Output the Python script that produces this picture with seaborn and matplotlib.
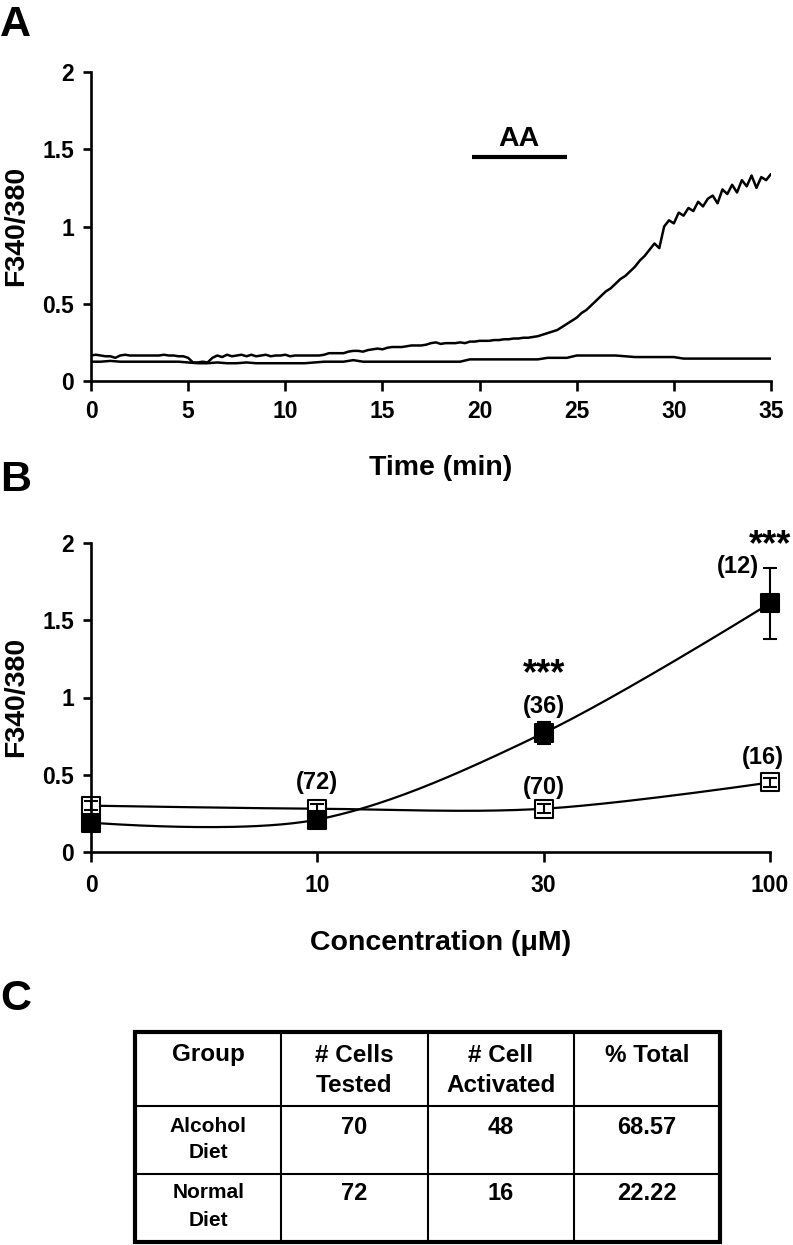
import numpy as np
import pandas as pd
import matplotlib
matplotlib.use("Agg")
import matplotlib.pyplot as plt
from matplotlib.patches import Rectangle
import seaborn as sns

# ---- panel A: F340/380 traces (sampled every 0.25 / 0.5 min) ----
trace_responder = [
    0.165, 0.17, 0.165, 0.16, 0.16, 0.15, 0.165, 0.17, 0.165, 0.165,
    0.165, 0.165, 0.165, 0.165, 0.165, 0.17, 0.165, 0.165, 0.16, 0.16,
    0.15, 0.12, 0.12, 0.125, 0.12, 0.15, 0.165, 0.155, 0.17, 0.16,
    0.165, 0.17, 0.16, 0.17, 0.16, 0.165, 0.17, 0.16, 0.165, 0.165,
    0.17, 0.16, 0.165, 0.165, 0.165, 0.165, 0.165, 0.165, 0.17, 0.18,
    0.18, 0.18, 0.18, 0.19, 0.195, 0.195, 0.19, 0.2, 0.205, 0.21,
    0.205, 0.215, 0.22, 0.22, 0.22, 0.225, 0.23, 0.23, 0.23, 0.235,
    0.245, 0.25, 0.24, 0.245, 0.245, 0.245, 0.25, 0.245, 0.255, 0.255,
    0.26, 0.26, 0.26, 0.265, 0.265, 0.27, 0.27, 0.275, 0.275, 0.28,
    0.28, 0.285, 0.29, 0.30, 0.31, 0.32, 0.33, 0.35, 0.37, 0.39,
    0.41, 0.44, 0.46, 0.49, 0.52, 0.55, 0.58, 0.60, 0.63, 0.66,
    0.68, 0.71, 0.74, 0.78, 0.81, 0.85, 0.89, 0.86, 1.00, 1.04,
    1.02, 1.09, 1.07, 1.12, 1.10, 1.16, 1.13, 1.18, 1.20, 1.15,
    1.24, 1.21, 1.27, 1.22, 1.30, 1.26, 1.33, 1.25, 1.32, 1.30,
    1.34,
]
trace_nonresponder = [
    0.125, 0.125, 0.13, 0.125, 0.125, 0.125, 0.125, 0.125, 0.125, 0.125,
    0.12, 0.115, 0.115, 0.12, 0.115, 0.115, 0.12, 0.115, 0.115, 0.115,
    0.115, 0.115, 0.115, 0.12, 0.125, 0.125, 0.125, 0.135, 0.125, 0.125,
    0.125, 0.125, 0.125, 0.125, 0.125, 0.125, 0.125, 0.125, 0.125, 0.14,
    0.14, 0.14, 0.14, 0.14, 0.14, 0.14, 0.14, 0.15, 0.15, 0.15,
    0.165, 0.165, 0.165, 0.165, 0.165, 0.16, 0.155, 0.155, 0.155, 0.155,
    0.155, 0.145, 0.145, 0.145, 0.145, 0.145, 0.145, 0.145, 0.145, 0.145,
    0.145,
]
time_fast = np.arange(len(trace_responder)) * 0.25
time_slow = np.arange(len(trace_nonresponder)) * 0.5
aa_window = [19.6, 24.5]
aa_level = 1.45

# ---- panel B: dose response ----
conc_labels = ["0", "10", "30", "100"]
alcohol_mean = [0.19, 0.21, 0.77, 1.61]
alcohol_sem = [0.03, 0.03, 0.07, 0.23]
normal_mean = [0.30, 0.28, 0.28, 0.45]
normal_sem = [0.03, 0.03, 0.03, 0.03]

# ---- panel C: table ----
table_header = ["Group", "# Cells\nTested", "# Cell\nActivated", "% Total"]
table_groups = ["Alcohol\nDiet", "Normal\nDiet"]
cells_tested = ["70", "72"]
cells_activated = ["48", "16"]
pct_total = ["68.57", "22.22"]


def smooth_curve(y, n=50):
    # Excel-like smoothed line: cubic Bezier, handles = (P[i+1]-P[i-1])/6,
    # handle at the two end points sits on the point itself
    p = np.column_stack([np.arange(len(y), dtype=float), np.asarray(y, float)])
    k = len(p)
    t = np.linspace(0, 1, n)[:, None]
    xs, ys = [], []
    for i in range(k - 1):
        c1 = p[i] + (p[i + 1] - p[i - 1]) / 6 if i > 0 else p[i]
        c2 = p[i + 1] - (p[i + 2] - p[i]) / 6 if i + 2 < k else p[i + 1]
        b = ((1 - t) ** 3) * p[i] + 3 * ((1 - t) ** 2) * t * c1 \
            + 3 * (1 - t) * t ** 2 * c2 + t ** 3 * p[i + 1]
        xs.append(b[:, 0])
        ys.append(b[:, 1])
    return np.concatenate(xs), np.concatenate(ys)


sns.set_theme(style="ticks")
plt.rcParams["font.family"] = ["Liberation Sans", "DejaVu Sans"]
plt.rcParams["font.weight"] = "bold"
plt.rcParams["axes.labelweight"] = "bold"
plt.rcParams["text.color"] = "black"
plt.rcParams["axes.labelcolor"] = "black"
plt.rcParams["xtick.color"] = "black"
plt.rcParams["ytick.color"] = "black"
plt.rcParams["axes.edgecolor"] = "black"

W, H = 793, 1245
fig = plt.figure(figsize=(W / 100, H / 100), dpi=100)


def style_axis(ax, xpad, ypad):
    sns.despine(ax=ax)
    for s in ("left", "bottom"):
        ax.spines[s].set_linewidth(1.9)
        ax.spines[s].set_color("black")
    ax.tick_params(axis="x", length=7.2, width=1.9, pad=xpad, labelsize=16.5,
                   colors="black", labelcolor="black")
    ax.tick_params(axis="y", length=5.8, width=1.9, pad=ypad, labelsize=16.5,
                   colors="black", labelcolor="black")
    for lab in ax.get_xticklabels() + ax.get_yticklabels():
        lab.set_fontweight("bold")


# ---------------- A ----------------
axA = fig.add_axes([91 / W, 1 - 381 / H, 680 / W, 309 / H])
df_a1 = pd.DataFrame({"t": time_fast, "r": trace_responder})
df_a2 = pd.DataFrame({"t": time_slow, "r": trace_nonresponder})
sns.lineplot(data=df_a1, x="t", y="r", ax=axA, color="black", lw=1.8)
sns.lineplot(data=df_a2, x="t", y="r", ax=axA, color="black", lw=1.8)
axA.plot(aa_window, [aa_level, aa_level], color="black", lw=3, solid_capstyle="butt")
axA.text(np.mean(aa_window), 1.566, "AA", ha="center", va="center", fontsize=20.5, fontweight="bold")
axA.set_xlim(0, 35)
axA.set_ylim(0, 2)
axA.set_xticks(range(0, 36, 5))
axA.set_yticks([0, 0.5, 1, 1.5, 2])
axA.set_yticklabels(["0", "0.5", "1", "1.5", "2"])
axA.set_xlabel("")
axA.set_ylabel("")
style_axis(axA, 6.5, 6.5)

# ---------------- B ----------------
axB = fig.add_axes([91 / W, 1 - 852 / H, 679 / W, 309 / H])
xpos = np.arange(len(conc_labels))
for mean in (alcohol_mean, normal_mean):
    cx, cy = smooth_curve(mean)
    sns.lineplot(x=cx, y=cy, ax=axB, color="black", lw=1.6, sort=False, zorder=1)
sns.scatterplot(x=xpos, y=normal_mean, ax=axB, marker="s", s=150, color="white",
                edgecolor="black", linewidth=1.5, zorder=2, clip_on=False)
axB.errorbar(xpos, normal_mean, yerr=normal_sem, fmt="none", ecolor="black",
             elinewidth=1.5, capsize=5, capthick=1.5, zorder=3, clip_on=False)
axB.errorbar(xpos, alcohol_mean, yerr=alcohol_sem, fmt="none", ecolor="black",
             elinewidth=1.5, capsize=5, capthick=1.5, zorder=3, clip_on=False)
sns.scatterplot(x=xpos, y=alcohol_mean, ax=axB, marker="s", s=150, color="black",
                edgecolor="black", linewidth=1.5, zorder=4, clip_on=False)

lab_kw = dict(ha="center", va="center", fontsize=17, fontweight="bold")
axB.text(1, 0.453, "(72)", **lab_kw)
axB.text(2, 0.42, "(70)", **lab_kw)
axB.text(2.97, 0.61, "(16)", **lab_kw)
axB.text(2, 0.94, "(36)", **lab_kw)
axB.text(2.86, 1.85, "(12)", **lab_kw)
star_kw = dict(ha="center", va="baseline", fontsize=26, fontweight="bold")
axB.text(2, 1.085, "***", **star_kw)
axB.text(3.0, 1.92, "***", **star_kw)

axB.set_xlim(0, 3)
axB.set_ylim(0, 2)
axB.set_xticks(xpos)
axB.set_xticklabels(conc_labels)
axB.set_yticks([0, 0.5, 1, 1.5, 2])
axB.set_yticklabels(["0", "0.5", "1", "1.5", "2"])
axB.set_xlabel("")
axB.set_ylabel("")
style_axis(axB, 8.5, 6.5)

# axis titles and panel letters
fig.text(441 / W, 1 - 468 / H, "Time (min)", ha="center", va="center", fontsize=20.5, fontweight="bold")
fig.text(441 / W, 1 - 943 / H, "Concentration (\u03bcM)", ha="center", va="center", fontsize=20.5, fontweight="bold")
for yc in (226, 697):
    fig.text(16 / W, 1 - yc / H, "F340/380", rotation=90, ha="center", va="center",
             fontsize=20.5, fontweight="bold")
for letter, yc in (("A", 25), ("B", 480), ("C", 999)):
    fig.text(0, 1 - yc / H, letter, ha="left", va="center", fontsize=31, fontweight="bold")

# ---------------- C ----------------
tx0, ty0, tw, th = 135, 1032, 585, 210
axC = fig.add_axes([tx0 / W, 1 - (ty0 + th) / H, tw / W, th / H])
axC.set_xlim(0, tw)
axC.set_ylim(th, 0)
axC.axis("off")
row_tops = [0, 74, 142, 210]
col_w = tw / 4
for r in row_tops[1:-1]:
    axC.plot([0, tw], [r, r], color="black", lw=1.5)
for c in range(1, 4):
    axC.plot([c * col_w, c * col_w], [0, th], color="black", lw=1.5)
axC.add_patch(Rectangle((0, 0), tw, th, fill=False, edgecolor="black", lw=3, clip_on=False))

rows = [table_header]
for i in range(len(table_groups)):
    rows.append([table_groups[i], cells_tested[i], cells_activated[i], pct_total[i]])
first_off = [23, 21, 19]
line_gap = [30, 26, 27]
for ri, row in enumerate(rows):
    for ci, txt in enumerate(row):
        if ri == 0:
            fs = 17.5
        elif ci == 0:
            fs = 15
        else:
            fs = 17
        for li, line in enumerate(txt.split("\n")):
            axC.text((ci + 0.5) * col_w, row_tops[ri] + first_off[ri] + li * line_gap[ri], line,
                     ha="center", va="center", fontsize=fs, fontweight="bold")

fig.savefig("out.png", dpi=100)
